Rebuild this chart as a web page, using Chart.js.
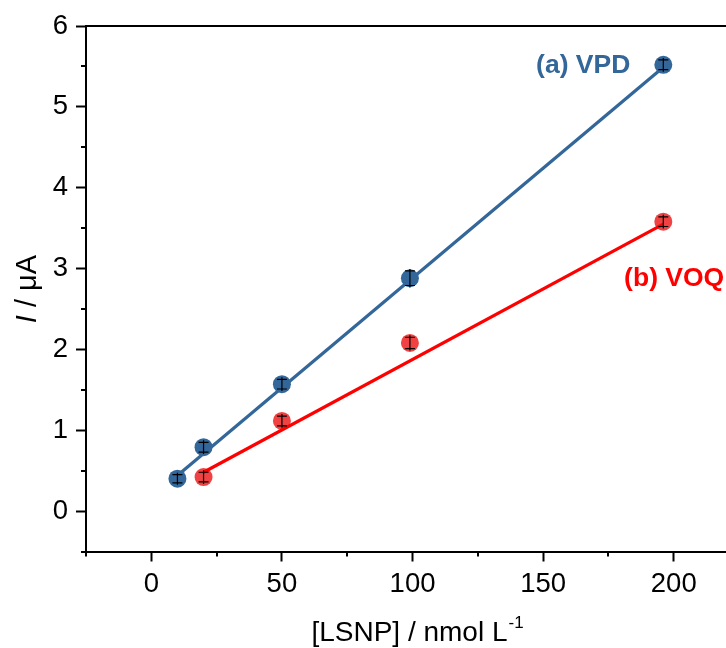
<!DOCTYPE html>
<html><head><meta charset="utf-8">
<script src="https://cdn.jsdelivr.net/npm/chart.js@4/dist/chart.umd.min.js"></script>
<style>html,body{margin:0;padding:0;background:#fff}#wrap{width:726px;height:648px}</style>
</head><body><div id="wrap"><canvas id="c" width="726" height="648"></canvas></div>
<script>
// ---- data ----
const vpdX = [10, 20, 50, 99, 196];
const vpdY = [0.40, 0.79, 1.57, 2.88, 5.52];
const vpdErr = [0.05, 0.06, 0.06, 0.09, 0.06];
const voqX = [20, 50, 99, 196];
const voqY = [0.42, 1.115, 2.08, 3.58];
const voqErr = [0.06, 0.06, 0.07, 0.06];
const vpdFitX = [10, 196];
const vpdFitY = [0.44, 5.49];
const voqFitX = [20, 196];
const voqFitY = [0.48, 3.55];
const xTicks = [-25, 0, 25, 50, 75, 100, 125, 150, 175, 200];
const yTicks = [-0.5, 0, 0.5, 1, 1.5, 2, 2.5, 3, 3.5, 4, 4.5, 5, 5.5, 6];
const seriesLabels = ['(a) VPD', '(b) VOQ'];
const xTitle = '[LSNP] / nmol L';
const xTitleSup = '-1';
const yTitleItalic = 'I';
const yTitleRest = ' / \u03BCA';

const BLUE = '#336699', BLUE_PT = '#336699', RED = '#ff0000', RED_PT = '#f04242';
const FONT = '"Liberation Sans", Arial, Helvetica, sans-serif';

const pts = (xs, ys) => xs.map((x, i) => ({x: x, y: ys[i]}));
const isMajorX = v => v % 50 === 0;
const isMajorY = v => Number.isInteger(v);

const decor = {
  id: 'decor',
  afterDatasetsDraw(chart) {
    const ctx = chart.ctx, xs = chart.scales.x, ys = chart.scales.y;
    ctx.save();
    ctx.strokeStyle = '#000'; ctx.lineWidth = 1.2;
    const eb = (xv, yv, ev) => {
      xv.forEach((x, i) => {
        const px = xs.getPixelForValue(x);
        const p1 = ys.getPixelForValue(yv[i] + ev[i]);
        const p2 = ys.getPixelForValue(yv[i] - ev[i]);
        ctx.beginPath();
        ctx.moveTo(px, p1 - 2); ctx.lineTo(px, p2 + 2);
        ctx.moveTo(px - 5, p1); ctx.lineTo(px + 5, p1);
        ctx.moveTo(px - 5, p2); ctx.lineTo(px + 5, p2);
        ctx.stroke();
      });
    };
    eb(vpdX, vpdY, vpdErr);
    eb(voqX, voqY, voqErr);
    ctx.restore();
  },
  afterDraw(chart) {
    const ctx = chart.ctx, xs = chart.scales.x, ys = chart.scales.y, a = chart.chartArea;
    ctx.save();
    ctx.strokeStyle = '#000'; ctx.lineWidth = 2;
    ctx.beginPath(); ctx.moveTo(a.left - 1, a.top); ctx.lineTo(a.right, a.top); ctx.stroke();
    xTicks.filter(v => !isMajorX(v)).forEach(v => {
      const px = Math.round(xs.getPixelForValue(v));
      ctx.beginPath(); ctx.moveTo(px, a.bottom); ctx.lineTo(px, a.bottom + 5); ctx.stroke();
    });
    yTicks.filter(v => !isMajorY(v)).forEach(v => {
      const py = Math.round(ys.getPixelForValue(v));
      ctx.beginPath(); ctx.moveTo(a.left, py); ctx.lineTo(a.left - 5, py); ctx.stroke();
    });
    ctx.font = 'bold 26.5px ' + FONT;
    ctx.textBaseline = 'middle'; ctx.textAlign = 'left';
    ctx.fillStyle = BLUE;
    ctx.fillText(seriesLabels[0], xs.getPixelForValue(147.3), ys.getPixelForValue(5.51));
    ctx.fillStyle = RED;
    ctx.fillText(seriesLabels[1], xs.getPixelForValue(181), ys.getPixelForValue(2.88));
    ctx.fillStyle = '#000';
    ctx.textBaseline = 'alphabetic';
    ctx.font = '28px ' + FONT;
    const w1 = ctx.measureText(xTitle).width;
    ctx.font = '17px ' + FONT;
    const w2 = ctx.measureText(xTitleSup).width;
    const x0 = 417 - (w1 + w2) / 2;
    ctx.font = '28px ' + FONT;
    ctx.fillText(xTitle, x0, 641);
    ctx.font = '17px ' + FONT;
    ctx.fillText(xTitleSup, x0 + w1 + 1, 628);
    ctx.translate(36, 289);
    ctx.rotate(-Math.PI / 2);
    ctx.font = 'italic 29px ' + FONT;
    const wi = ctx.measureText(yTitleItalic).width;
    ctx.font = '29px ' + FONT;
    const wr = ctx.measureText(yTitleRest).width;
    const s0 = -(wi + wr) / 2;
    ctx.font = 'italic 29px ' + FONT;
    ctx.fillText(yTitleItalic, s0, 0);
    ctx.font = '29px ' + FONT;
    ctx.fillText(yTitleRest, s0 + wi, 0);
    ctx.restore();
  }
};

new Chart(document.getElementById('c'), {
  data: {
    datasets: [
      {type: 'line', label: 'VPD fit', data: pts(vpdFitX, vpdFitY), borderColor: BLUE, borderWidth: 3.2, pointRadius: 0, fill: false, order: 1},
      {type: 'line', label: 'VOQ fit', data: pts(voqFitX, voqFitY), borderColor: RED, borderWidth: 3.2, pointRadius: 0, fill: false, order: 1},
      {type: 'scatter', label: 'VPD', data: pts(vpdX, vpdY), backgroundColor: BLUE_PT, borderWidth: 0, pointRadius: 9, pointHoverRadius: 9, order: 2},
      {type: 'scatter', label: 'VOQ', data: pts(voqX, voqY), backgroundColor: RED_PT, borderWidth: 0, pointRadius: 9, pointHoverRadius: 9, order: 2}
    ]
  },
  options: {
    responsive: false, animation: false, devicePixelRatio: 1,
    layout: {autoPadding: false, padding: {top: 26, right: 0, left: 0, bottom: 0}},
    plugins: {legend: {display: false}, tooltip: {enabled: false}},
    scales: {
      x: {
        type: 'linear', min: -25, max: 220,
        afterBuildTicks: s => { s.ticks = xTicks.map(v => ({value: v})); },
        afterFit: s => { s.height = 96.5; s.paddingRight = 0; s.paddingLeft = 0; },
        ticks: {autoSkip: false, maxRotation: 0, padding: 6, color: '#000',
          font: {size: 27.5, family: FONT},
          callback: v => isMajorX(v) ? String(v) : ''},
        grid: {drawOnChartArea: false, tickLength: 10, tickWidth: 2,
          tickColor: c => (c.tick && isMajorX(c.tick.value)) ? '#000' : 'rgba(0,0,0,0)'},
        border: {color: '#000', width: 2}
      },
      y: {
        type: 'linear', min: -0.5, max: 6,
        afterBuildTicks: s => { s.ticks = yTicks.map(v => ({value: v})); },
        afterFit: s => { s.width = 86; },
        ticks: {autoSkip: false, padding: 8, color: '#000',
          font: {size: 27.5, family: FONT},
          callback: v => isMajorY(v) ? String(v) : ''},
        grid: {drawOnChartArea: false, tickLength: 10, tickWidth: 2,
          tickColor: c => (c.tick && isMajorY(c.tick.value)) ? '#000' : 'rgba(0,0,0,0)'},
        border: {color: '#000', width: 2}
      }
    }
  },
  plugins: [decor]
});
</script>
</body></html>
